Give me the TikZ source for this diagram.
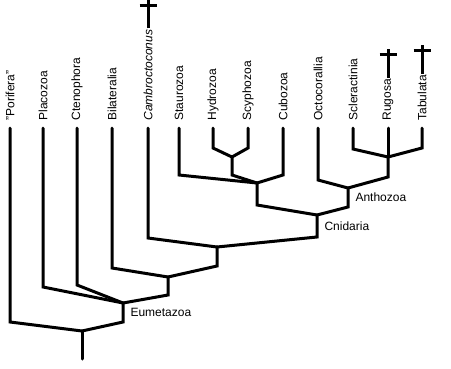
\documentclass[tikz,border=0pt]{standalone}
\usepackage{fontspec}
\setmainfont{Liberation Sans}

\begin{document}
\begin{tikzpicture}[
    x=1pt, y=-1pt,
    line width=3pt, line cap=round,
    leaf/.style={rotate=90, anchor=west, inner sep=0pt, font=\fontsize{12}{14}\selectfont},
    clade/.style={anchor=west, inner sep=0pt, xshift=6pt, font=\fontsize{12}{14}\selectfont},
    twig/.style={shorten <=6pt},
    cross/.style={line cap=butt}
  ]
  \useasboundingbox (0,0) rectangle (451,368);
  \foreach \x/\n/\t in {10/por/{"Porifera"}, 43/pla/Placozoa, 77/cte/Ctenophora,
      112/bil/Bilateralia, 148/cam/\textit{Cambroctoconus}, 179/sta/Staurozoa,
      213/hyd/Hydrozoa, 248/scy/Scyphozoa, 283/cub/Cubozoa, 318/oct/Octocorallia,
      353/scl/Scleractinia, 388/rug/Rugosa, 422/tab/Tabulata}
    \node[leaf] (\n) at (\x,122) {\t};

  \coordinate (root) at (82,331);
  \coordinate (eume) at (123,303);
  \coordinate (bila) at (168,277);
  \coordinate (camb) at (217,247);
  \coordinate (cnid) at (317,215);
  \coordinate (medu) at (257,183);
  \coordinate (hysc) at (232,157);
  \coordinate (anth) at (348,188);
  \coordinate (rugo) at (388,157);

  \draw (root) -- ++(0,28);
  \draw (eume) -- node[clade] {Eumetazoa} ++(0,19) -- (root);
  \draw (bila) -- ++(0,18) -- (eume);
  \draw (camb) -- ++(0,19) -- (bila);
  \draw (cnid) -- node[clade] {Cnidaria} ++(0,22) -- (camb);
  \draw (medu) -- ++(0,22) -- (cnid);
  \draw (hysc) -- ++(0,18) -- (medu);
  \draw (anth) -- node[clade] {Anthozoa} ++(0,19) -- (cnid);
  \draw (rugo) -- ++(0,20) -- (anth);

  \foreach \n/\l/\p in {por/200/root, pla/165/eume, cte/163/eume, bil/146/bila,
      cam/116/camb, sta/53/medu, hyd/26/hysc, scy/26/hysc, cub/53/medu,
      oct/58/anth, scl/27/rugo, tab/26/rugo}
    \draw[twig] (\n.west) -- ++(0,\l) -- (\p);
  \draw[twig] (rug.west) -- (rugo);

  \foreach \n in {cam, rug, tab}
    \draw[cross] (\n.east) -- ++(0,-29) ++(-8.5,6) -- ++(17,0);
\end{tikzpicture}
\end{document}
